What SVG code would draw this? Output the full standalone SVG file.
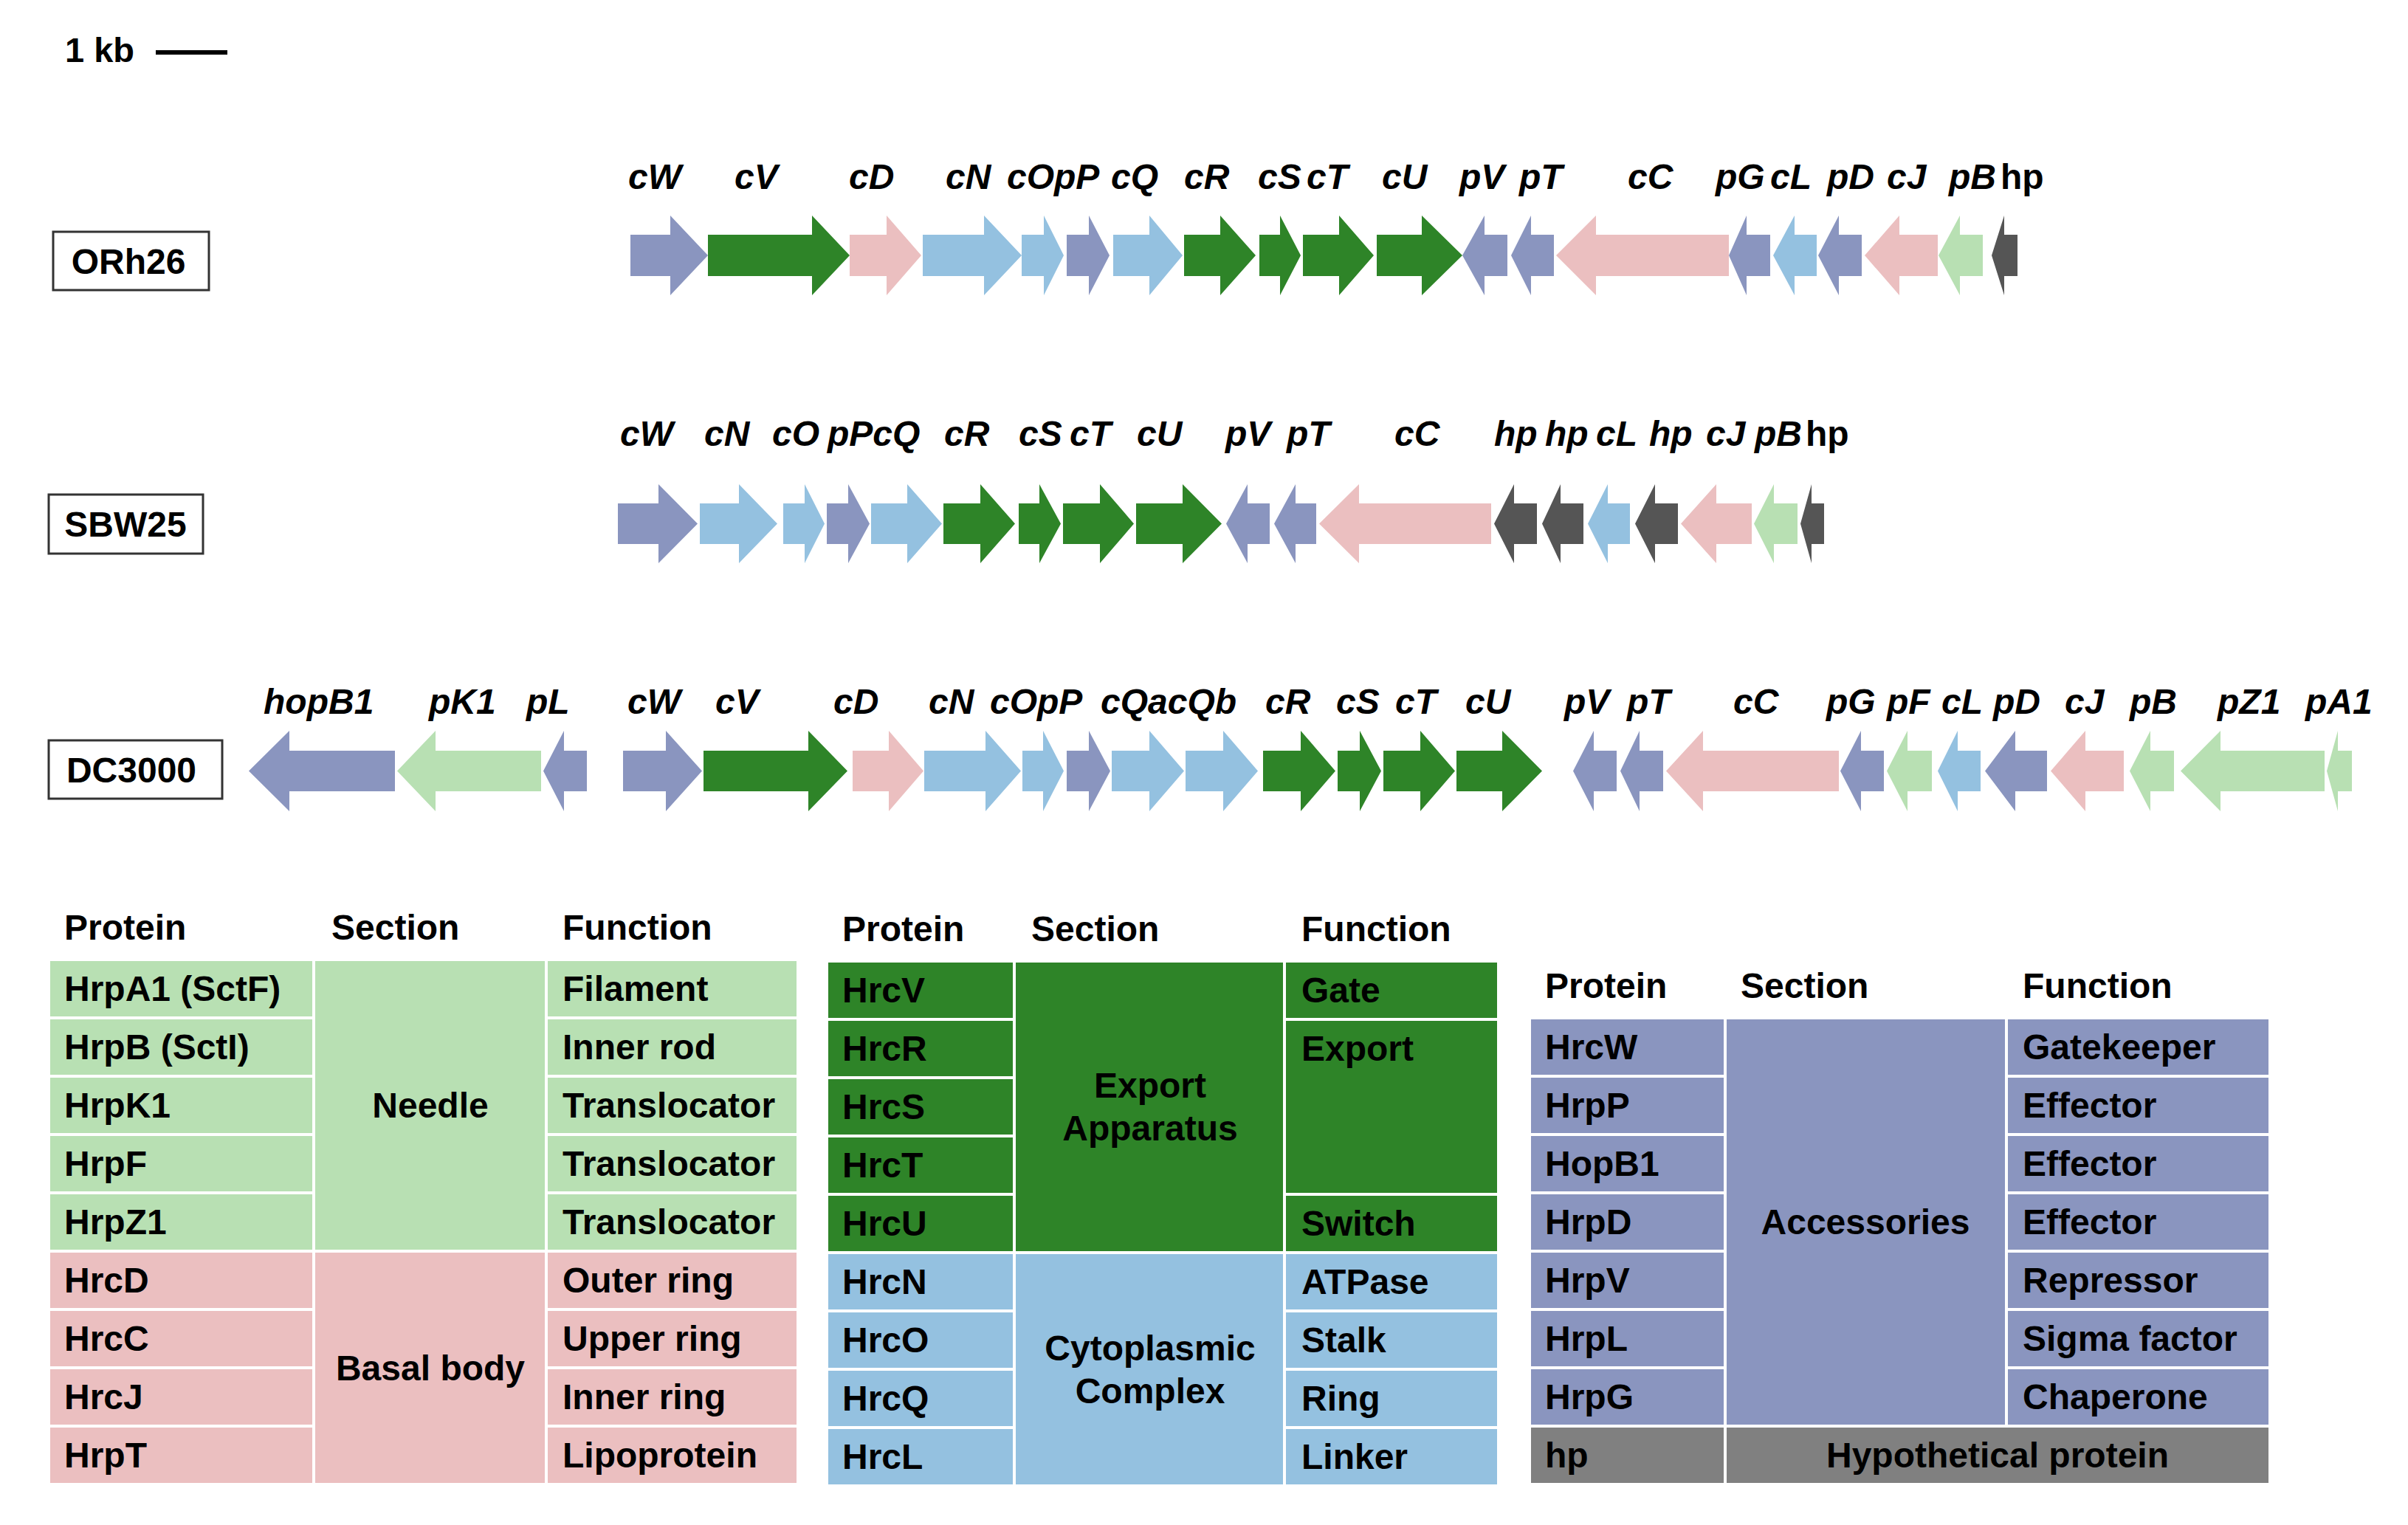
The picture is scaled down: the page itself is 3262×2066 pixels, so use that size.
<svg xmlns="http://www.w3.org/2000/svg" width="3262" height="2066" viewBox="0 0 3262 2066">
<style>
.per{fill:#8a95bf}.dg{fill:#2e8428}.pk{fill:#ebbfc0}.lb{fill:#94c1e0}.lg{fill:#b8e0b3}.hp{fill:#555555}.gy{fill:#808080}
.gl{font-family:"Liberation Sans",Arial,sans-serif;font-size:48px;font-weight:700;font-style:italic;fill:#000}
.gu{font-family:"Liberation Sans",Arial,sans-serif;font-size:48px;font-weight:700;fill:#000}
.t{font-family:"Liberation Sans",Arial,sans-serif;font-size:48px;font-weight:700;fill:#000}
.tc{font-family:"Liberation Sans",Arial,sans-serif;font-size:48px;font-weight:700;fill:#000;text-anchor:middle}
.box{fill:#fff;stroke:#333;stroke-width:3}
.cell rect{stroke:#fff;stroke-width:4}
</style>
<rect width="3262" height="2066" fill="#fff"/>
<g id="scale">
<text class="t" x="88" y="84" style="font-size:47px">1 kb</text>
<line x1="211" y1="71" x2="308" y2="71" stroke="#000" stroke-width="6"/>
</g>
<g id="strain-ORh26"><rect class="box" x="72" y="314" width="211" height="79"/><text class="tc" x="174" y="371">ORh26</text></g>
<g id="strain-SBW25"><rect class="box" x="66" y="670" width="209" height="80"/><text class="tc" x="170" y="727">SBW25</text></g>
<g id="strain-DC3000"><rect class="box" x="66" y="1003" width="235" height="79"/><text class="tc" x="178" y="1060">DC3000</text></g>

<g id="track-ORh26">
<path id="o-cW" class="per" d="M854 318H908V292L959 346L908 400V374H854Z"/>
<path id="o-cV" class="dg" d="M959 318H1100V292L1151 346L1100 400V374H959Z"/>
<path id="o-cD" class="pk" d="M1151 318H1201V292L1248 346L1201 400V374H1151Z"/>
<path id="o-cN" class="lb" d="M1250 318H1333V292L1384 346L1333 400V374H1250Z"/>
<path id="o-cO" class="lb" d="M1384 318H1414V292L1441 346L1414 400V374H1384Z"/>
<path id="o-pP" class="per" d="M1445 318H1475V292L1503 346L1475 400V374H1445Z"/>
<path id="o-cQ" class="lb" d="M1508 318H1557V292L1602 346L1557 400V374H1508Z"/>
<path id="o-cR" class="dg" d="M1604 318H1653V292L1701 346L1653 400V374H1604Z"/>
<path id="o-cS" class="dg" d="M1706 318H1734V292L1762 346L1734 400V374H1706Z"/>
<path id="o-cT" class="dg" d="M1765 318H1814V292L1861 346L1814 400V374H1765Z"/>
<path id="o-cU" class="dg" d="M1865 318H1926V292L1981 346L1926 400V374H1865Z"/>
<path id="o-pV" class="per" d="M1981 346L2011 292V318H2042V374H2011V400Z"/>
<path id="o-pT" class="per" d="M2047 346L2074 292V318H2105V374H2074V400Z"/>
<path id="o-cC" class="pk" d="M2108 346L2162 292V318H2342V374H2162V400Z"/>
<path id="o-pG" class="per" d="M2342 346L2366 292V318H2398V374H2366V400Z"/>
<path id="o-cL" class="lb" d="M2402 346L2431 292V318H2461V374H2431V400Z"/>
<path id="o-pD" class="per" d="M2463 346L2491 292V318H2522V374H2491V400Z"/>
<path id="o-cJ" class="pk" d="M2526 346L2573 292V318H2625V374H2573V400Z"/>
<path id="o-pB" class="lg" d="M2626 346L2655 292V318H2686V374H2655V400Z"/>
<path id="o-hp" class="hp" d="M2698 346L2715 292V318H2733V374H2715V400Z"/>
<g>
<text class="gl" x="851" y="256">cW</text><text class="gl" x="995" y="256">cV</text><text class="gl" x="1150" y="256">cD</text>
<text class="gl" x="1281" y="256">cN</text><text class="gl" x="1364" y="256">cOpP</text><text class="gl" x="1505" y="256">cQ</text>
<text class="gl" x="1604" y="256">cR</text><text class="gl" x="1704" y="256">cS</text><text class="gl" x="1770" y="256">cT</text>
<text class="gl" x="1872" y="256">cU</text><text class="gl" x="1977" y="256">pV</text><text class="gl" x="2058" y="256">pT</text>
<text class="gl" x="2205" y="256">cC</text><text class="gl" x="2324" y="256">pG</text><text class="gl" x="2398" y="256">cL</text>
<text class="gl" x="2475" y="256">pD</text><text class="gl" x="2556" y="256">cJ</text><text class="gl" x="2640" y="256">pB</text>
<text class="gu" x="2710" y="256">hp</text>
</g>
</g>

<g id="track-SBW25">
<path id="s-cW" class="per" d="M837 682H892V656L945 709.5L892 763V737H837Z"/>
<path id="s-cN" class="lb" d="M948 682H1001V656L1053 709.5L1001 763V737H948Z"/>
<path id="s-cO" class="lb" d="M1061 682H1090V656L1117 709.5L1090 763V737H1061Z"/>
<path id="s-pP" class="per" d="M1120 682H1149V656L1178 709.5L1149 763V737H1120Z"/>
<path id="s-cQ" class="lb" d="M1180 682H1229V656L1276 709.5L1229 763V737H1180Z"/>
<path id="s-cR" class="dg" d="M1278 682H1328V656L1375 709.5L1328 763V737H1278Z"/>
<path id="s-cS" class="dg" d="M1380 682H1408V656L1437 709.5L1408 763V737H1380Z"/>
<path id="s-cT" class="dg" d="M1440 682H1490V656L1536 709.5L1490 763V737H1440Z"/>
<path id="s-cU" class="dg" d="M1539 682H1602V656L1655 709.5L1602 763V737H1539Z"/>
<path id="s-pV" class="per" d="M1661 709.5L1690 656V682H1720V737H1690V763Z"/>
<path id="s-pT" class="per" d="M1726 709.5L1755 656V682H1783V737H1755V763Z"/>
<path id="s-cC" class="pk" d="M1787 709.5L1841 656V682H2020V737H1841V763Z"/>
<path id="s-hp1" class="hp" d="M2024 709.5L2051 656V682H2082V737H2051V763Z"/>
<path id="s-hp2" class="hp" d="M2089 709.5L2114 656V682H2145V737H2114V763Z"/>
<path id="s-cL" class="lb" d="M2151 709.5L2178 656V682H2208V737H2178V763Z"/>
<path id="s-hp3" class="hp" d="M2215 709.5L2242 656V682H2273V737H2242V763Z"/>
<path id="s-cJ" class="pk" d="M2277 709.5L2325 656V682H2373V737H2325V763Z"/>
<path id="s-pB" class="lg" d="M2376 709.5L2403 656V682H2435V737H2403V763Z"/>
<path id="s-hp4" class="hp" d="M2439 709.5L2454 656V682H2471V737H2454V763Z"/>
<g>
<text class="gl" x="840" y="604">cW</text><text class="gl" x="954" y="604">cN</text><text class="gl" x="1046" y="604">cO</text>
<text class="gl" x="1121" y="604">pPcQ</text><text class="gl" x="1279" y="604">cR</text><text class="gl" x="1380" y="604">cS</text>
<text class="gl" x="1449" y="604">cT</text><text class="gl" x="1540" y="604">cU</text><text class="gl" x="1660" y="604">pV</text>
<text class="gl" x="1743" y="604">pT</text><text class="gl" x="1889" y="604">cC</text><text class="gl" x="2024" y="604">hp</text>
<text class="gl" x="2093" y="604">hp</text><text class="gl" x="2162" y="604">cL</text><text class="gl" x="2234" y="604">hp</text>
<text class="gl" x="2311" y="604">cJ</text><text class="gl" x="2377" y="604">pB</text><text class="gu" x="2446" y="604">hp</text>
</g>
</g>

<g id="track-DC3000">
<path id="d-hopB1" class="per" d="M337 1044.5L392 990V1017H535V1072H392V1099Z"/>
<path id="d-pK1" class="lg" d="M538 1044.5L590 990V1017H733V1072H590V1099Z"/>
<path id="d-pL" class="per" d="M736 1044.5L764 990V1017H795V1072H764V1099Z"/>
<path id="d-cW" class="per" d="M844 1017H902V990L951 1044.5L902 1099V1072H844Z"/>
<path id="d-cV" class="dg" d="M953 1017H1095V990L1148 1044.5L1095 1099V1072H953Z"/>
<path id="d-cD" class="pk" d="M1155 1017H1204V990L1251 1044.5L1204 1099V1072H1155Z"/>
<path id="d-cN" class="lb" d="M1252 1017H1335V990L1383 1044.5L1335 1099V1072H1252Z"/>
<path id="d-cO" class="lb" d="M1385 1017H1413V990L1441 1044.5L1413 1099V1072H1385Z"/>
<path id="d-pP" class="per" d="M1445 1017H1475V990L1504 1044.5L1475 1099V1072H1445Z"/>
<path id="d-cQa" class="lb" d="M1506 1017H1557V990L1604 1044.5L1557 1099V1072H1506Z"/>
<path id="d-cQb" class="lb" d="M1606 1017H1657V990L1704 1044.5L1657 1099V1072H1606Z"/>
<path id="d-cR" class="dg" d="M1711 1017H1762V990L1809 1044.5L1762 1099V1072H1711Z"/>
<path id="d-cS" class="dg" d="M1812 1017H1842V990L1871 1044.5L1842 1099V1072H1812Z"/>
<path id="d-cT" class="dg" d="M1874 1017H1924V990L1971 1044.5L1924 1099V1072H1874Z"/>
<path id="d-cU" class="dg" d="M1973 1017H2035V990L2089 1044.5L2035 1099V1072H1973Z"/>
<path id="d-pV" class="per" d="M2131 1044.5L2159 990V1017H2190V1072H2159V1099Z"/>
<path id="d-pT" class="per" d="M2195 1044.5L2221 990V1017H2253V1072H2221V1099Z"/>
<path id="d-cC" class="pk" d="M2257 1044.5L2307 990V1017H2491V1072H2307V1099Z"/>
<path id="d-pG" class="per" d="M2493 1044.5L2521 990V1017H2552V1072H2521V1099Z"/>
<path id="d-pF" class="lg" d="M2556 1044.5L2584 990V1017H2617V1072H2584V1099Z"/>
<path id="d-cL" class="lb" d="M2625 1044.5L2652 990V1017H2683V1072H2652V1099Z"/>
<path id="d-pD" class="per" d="M2689 1044.5L2730 990V1017H2773V1072H2730V1099Z"/>
<path id="d-cJ" class="pk" d="M2778 1044.5L2825 990V1017H2877V1072H2825V1099Z"/>
<path id="d-pB" class="lg" d="M2885 1044.5L2913 990V1017H2945V1072H2913V1099Z"/>
<path id="d-pZ1" class="lg" d="M2954 1044.5L3008 990V1017H3149V1072H3008V1099Z"/>
<path id="d-pA1" class="lg" d="M3152 1044.5L3167 990V1017H3186V1072H3167V1099Z"/>
<g>
<text class="gl" x="357" y="967">hopB1</text><text class="gl" x="581" y="967">pK1</text><text class="gl" x="713" y="967">pL</text>
<text class="gl" x="850" y="967">cW</text><text class="gl" x="969" y="967">cV</text><text class="gl" x="1129" y="967">cD</text>
<text class="gl" x="1258" y="967">cN</text><text class="gl" x="1341" y="967">cOpP</text><text class="gl" x="1491" y="967">cQacQb</text>
<text class="gl" x="1714" y="967">cR</text><text class="gl" x="1810" y="967">cS</text><text class="gl" x="1890" y="967">cT</text>
<text class="gl" x="1985" y="967">cU</text><text class="gl" x="2119" y="967">pV</text><text class="gl" x="2204" y="967">pT</text>
<text class="gl" x="2348" y="967">cC</text><text class="gl" x="2474" y="967">pG</text><text class="gl" x="2556" y="967">pF</text>
<text class="gl" x="2630" y="967">cL</text><text class="gl" x="2700" y="967">pD</text><text class="gl" x="2797" y="967">cJ</text>
<text class="gl" x="2885" y="967">pB</text><text class="gl" x="3004" y="967">pZ1</text><text class="gl" x="3123" y="967">pA1</text>
</g>
</g>

<g id="table-1">
<text class="t" x="87" y="1273">Protein</text><text class="t" x="449" y="1273">Section</text><text class="t" x="762" y="1273">Function</text>
<g class="cell">
<rect class="lg" x="66" y="1300" width="359" height="79"/><rect class="lg" x="66" y="1379" width="359" height="79"/>
<rect class="lg" x="66" y="1458" width="359" height="79"/><rect class="lg" x="66" y="1537" width="359" height="79"/>
<rect class="lg" x="66" y="1616" width="359" height="79"/><rect class="pk" x="66" y="1695" width="359" height="79"/>
<rect class="pk" x="66" y="1774" width="359" height="79"/><rect class="pk" x="66" y="1853" width="359" height="79"/>
<rect class="pk" x="66" y="1932" width="359" height="79"/>
<rect class="lg" x="425" y="1300" width="315" height="395"/><rect class="pk" x="425" y="1695" width="315" height="316"/>
<rect class="lg" x="740" y="1300" width="341" height="79"/><rect class="lg" x="740" y="1379" width="341" height="79"/>
<rect class="lg" x="740" y="1458" width="341" height="79"/><rect class="lg" x="740" y="1537" width="341" height="79"/>
<rect class="lg" x="740" y="1616" width="341" height="79"/><rect class="pk" x="740" y="1695" width="341" height="79"/>
<rect class="pk" x="740" y="1774" width="341" height="79"/><rect class="pk" x="740" y="1853" width="341" height="79"/>
<rect class="pk" x="740" y="1932" width="341" height="79"/>
</g>
<text class="t" x="87" y="1356">HrpA1 (SctF)</text><text class="t" x="87" y="1435">HrpB (SctI)</text>
<text class="t" x="87" y="1514">HrpK1</text><text class="t" x="87" y="1593">HrpF</text><text class="t" x="87" y="1672">HrpZ1</text>
<text class="t" x="87" y="1751">HrcD</text><text class="t" x="87" y="1830">HrcC</text><text class="t" x="87" y="1909">HrcJ</text><text class="t" x="87" y="1988">HrpT</text>
<text class="tc" x="583" y="1514">Needle</text><text class="tc" x="583" y="1870">Basal body</text>
<text class="t" x="762" y="1356">Filament</text><text class="t" x="762" y="1435">Inner rod</text>
<text class="t" x="762" y="1514">Translocator</text><text class="t" x="762" y="1593">Translocator</text><text class="t" x="762" y="1672">Translocator</text>
<text class="t" x="762" y="1751">Outer ring</text><text class="t" x="762" y="1830">Upper ring</text><text class="t" x="762" y="1909">Inner ring</text><text class="t" x="762" y="1988">Lipoprotein</text>
</g>

<g id="table-2">
<text class="t" x="1141" y="1275">Protein</text><text class="t" x="1397" y="1275">Section</text><text class="t" x="1763" y="1275">Function</text>
<g class="cell">
<rect class="dg" x="1120" y="1302" width="254" height="79"/><rect class="dg" x="1120" y="1381" width="254" height="79"/>
<rect class="dg" x="1120" y="1460" width="254" height="79"/><rect class="dg" x="1120" y="1539" width="254" height="79"/>
<rect class="dg" x="1120" y="1618" width="254" height="79"/><rect class="lb" x="1120" y="1697" width="254" height="79"/>
<rect class="lb" x="1120" y="1776" width="254" height="79"/><rect class="lb" x="1120" y="1855" width="254" height="79"/>
<rect class="lb" x="1120" y="1934" width="254" height="79"/>
<rect class="dg" x="1374" y="1302" width="366" height="395"/><rect class="lb" x="1374" y="1697" width="366" height="316"/>
<rect class="dg" x="1740" y="1302" width="290" height="79"/><rect class="dg" x="1740" y="1381" width="290" height="237"/>
<rect class="dg" x="1740" y="1618" width="290" height="79"/><rect class="lb" x="1740" y="1697" width="290" height="79"/>
<rect class="lb" x="1740" y="1776" width="290" height="79"/><rect class="lb" x="1740" y="1855" width="290" height="79"/>
<rect class="lb" x="1740" y="1934" width="290" height="79"/>
</g>
<text class="t" x="1141" y="1358">HrcV</text><text class="t" x="1141" y="1437">HrcR</text><text class="t" x="1141" y="1516">HrcS</text>
<text class="t" x="1141" y="1595">HrcT</text><text class="t" x="1141" y="1674">HrcU</text><text class="t" x="1141" y="1753">HrcN</text>
<text class="t" x="1141" y="1832">HrcO</text><text class="t" x="1141" y="1911">HrcQ</text><text class="t" x="1141" y="1990">HrcL</text>
<text class="tc" x="1558" y="1487">Export</text><text class="tc" x="1558" y="1545">Apparatus</text>
<text class="tc" x="1558" y="1843">Cytoplasmic</text><text class="tc" x="1558" y="1901">Complex</text>
<text class="t" x="1763" y="1358">Gate</text><text class="t" x="1763" y="1437">Export</text><text class="t" x="1763" y="1674">Switch</text>
<text class="t" x="1763" y="1753">ATPase</text><text class="t" x="1763" y="1832">Stalk</text><text class="t" x="1763" y="1911">Ring</text><text class="t" x="1763" y="1990">Linker</text>
</g>

<g id="table-3">
<text class="t" x="2093" y="1352">Protein</text><text class="t" x="2358" y="1352">Section</text><text class="t" x="2740" y="1352">Function</text>
<g class="cell">
<rect class="per" x="2072" y="1379" width="265" height="79"/><rect class="per" x="2072" y="1458" width="265" height="79"/>
<rect class="per" x="2072" y="1537" width="265" height="79"/><rect class="per" x="2072" y="1616" width="265" height="79"/>
<rect class="per" x="2072" y="1695" width="265" height="79"/><rect class="per" x="2072" y="1774" width="265" height="79"/>
<rect class="per" x="2072" y="1853" width="265" height="79"/><rect class="gy" x="2072" y="1932" width="265" height="79"/>
<rect class="per" x="2337" y="1379" width="381" height="553"/>
<rect class="per" x="2718" y="1379" width="357" height="79"/><rect class="per" x="2718" y="1458" width="357" height="79"/>
<rect class="per" x="2718" y="1537" width="357" height="79"/><rect class="per" x="2718" y="1616" width="357" height="79"/>
<rect class="per" x="2718" y="1695" width="357" height="79"/><rect class="per" x="2718" y="1774" width="357" height="79"/>
<rect class="per" x="2718" y="1853" width="357" height="79"/>
<rect class="gy" x="2337" y="1932" width="738" height="79"/>
</g>
<text class="t" x="2093" y="1435">HrcW</text><text class="t" x="2093" y="1514">HrpP</text><text class="t" x="2093" y="1593">HopB1</text>
<text class="t" x="2093" y="1672">HrpD</text><text class="t" x="2093" y="1751">HrpV</text><text class="t" x="2093" y="1830">HrpL</text>
<text class="t" x="2093" y="1909">HrpG</text><text class="t" x="2093" y="1988">hp</text>
<text class="tc" x="2527" y="1672">Accessories</text>
<text class="tc" x="2706" y="1988">Hypothetical protein</text>
<text class="t" x="2740" y="1435">Gatekeeper</text><text class="t" x="2740" y="1514">Effector</text><text class="t" x="2740" y="1593">Effector</text>
<text class="t" x="2740" y="1672">Effector</text><text class="t" x="2740" y="1751">Repressor</text><text class="t" x="2740" y="1830">Sigma factor</text>
<text class="t" x="2740" y="1909">Chaperone</text>
</g>
</svg>
